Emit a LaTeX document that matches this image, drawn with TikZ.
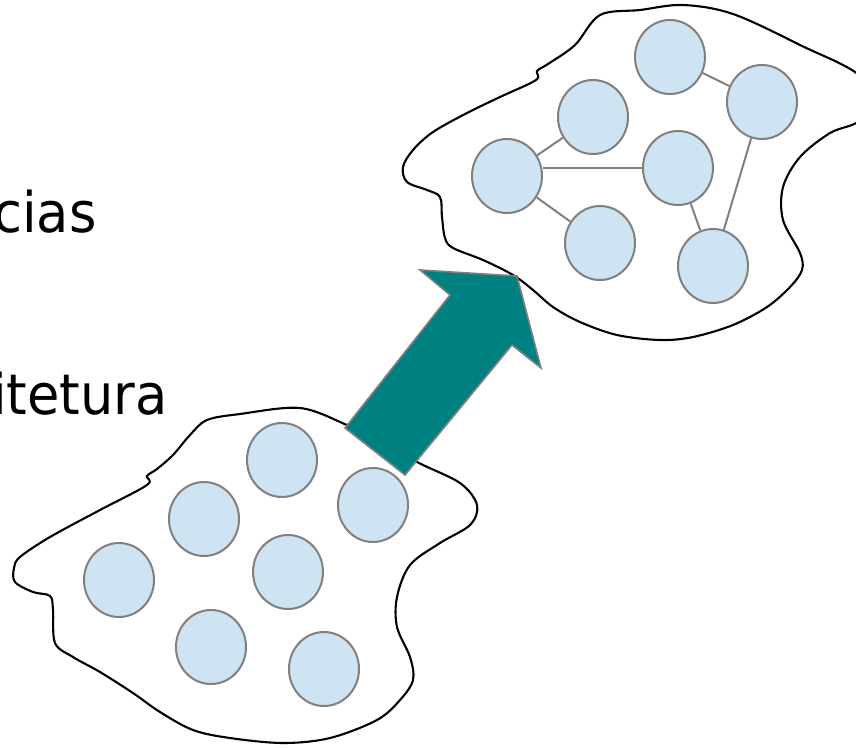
\documentclass[tikz,border=0pt]{standalone}
\usepackage{fontspec}
\setmainfont{DejaVu Sans}
\usetikzlibrary{shapes.geometric}
\definecolor{cellfill}{RGB}{207,228,242}
\definecolor{cellline}{RGB}{128,128,128}
\definecolor{arrowteal}{RGB}{0,128,128}
\tikzset{
  cell/.style={ellipse, draw=cellline, line width=2pt, fill=cellfill, minimum width=70pt, minimum height=74pt, inner sep=0pt},
  link/.style={draw=cellline, line width=2pt},
  blob/.style={draw=black, line width=2.1pt, fill=white},
  label/.style={anchor=base west, inner sep=0pt, font=\fontsize{56}{60}\selectfont, xscale=0.94}
}
\begin{document}
\begin{tikzpicture}[x=1pt,y=-1pt]
\useasboundingbox (0,0) rectangle (856,747);
\clip (0,0) rectangle (856,747);
\fill[white] (0,0) rectangle (856,747);

% texts
\node[label] (t1) at (-7,232) {cias};
\node[label] (t2) at (-8,414) {itetura};

% top blob
\path[blob] plot[smooth cycle, tension=0.55] coordinates {
 (536,80) (537,71) (548,64) (575,45) (600,15) (640,10) (683,5) (733,14) (800,45)
 (862,78) (862,118) (830,133) (800,157) (783,187) (783,220) (800,253) (802,270)
 (790,287) (767,307) (733,325) (693,337) (660,340) (617,335) (580,322) (553,307)
 (533,290) (513,275) (483,260) (453,248) (445,238) (442,217) (440,197) (427,190)
 (407,182) (403,167) (413,150) (433,132) (467,113) (500,97)};

% bottom blob
\path[blob] plot[smooth cycle, tension=0.55] coordinates {
 (147,485) (147,476) (157,469) (173,455) (190,435) (207,420) (240,414) (300,408)
 (347,425) (380,440) (417,462) (460,483) (477,505) (470,525) (440,543) (410,565)
 (397,597) (397,627) (410,657) (413,680) (400,700) (377,720) (330,738) (283,743)
 (230,738) (193,730) (160,712) (133,693) (100,672) (73,657) (55,643) (53,610)
 (50,596) (33,592) (15,582) (14,568) (20,557) (50,537) (100,510)};

% top cells
\node[cell] (a) at (670,57) {};
\node[cell] (b) at (762,102) {};
\node[cell] (c) at (593,117) {};
\node[cell] (d) at (507,176) {};
\node[cell] (e) at (678,168) {};
\node[cell] (f) at (600,243) {};
\node[cell] (g) at (713,266) {};
\draw[link] (a) -- (b);
\draw[link] (c) -- (d);
\draw[link] (e.west) -- (e.west -| d.east);
\draw[link] (d) -- (f);
\draw[link] (e) -- (g);
\draw[link] (b) -- (g);

% bottom cells
\node[cell] (p1) at (282,460) {};
\node[cell] (p2) at (204,519) {};
\node[cell] (p3) at (373,505) {};
\node[cell] (p4) at (119,580) {};
\node[cell] (p5) at (288,572) {};
\node[cell] (p6) at (211,647) {};
\node[cell] (p7) at (324,669) {};

% arrow
\coordinate (r1) at (345,428);
\coordinate (r2) at (450,295);
\coordinate (r3) at (420,270);
\coordinate (r4) at (517,276);
\coordinate (r5) at (541,368);
\coordinate (r6) at (512,345);
\coordinate (r7) at (405,475);
\filldraw[fill=arrowteal, draw=cellline, line width=1.6pt, line join=miter]
 (r1) -- (r2) -- (r3) -- (r4) -- (r5) -- (r6) -- (r7) -- cycle;
\end{tikzpicture}
\end{document}
